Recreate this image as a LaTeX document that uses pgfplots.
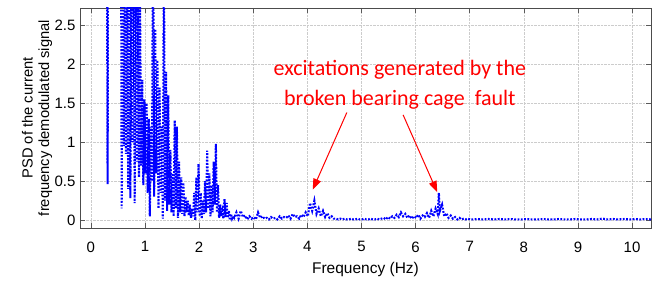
\documentclass[border=0pt]{standalone}
\usepackage{fontspec}
\setmainfont{Liberation Sans}
\newfontfamily\calib{Carlito}
\usepackage{pgfplots}
\pgfplotsset{compat=1.18}
\usetikzlibrary{arrows.meta}
\pgfplotstableread{
x y
0.29 6.0
0.31 0.46
0.33 8.0
0.35 6.5
0.37 9.0
0.39 7.0
0.41 8.5
0.43 6.0
0.45 9.0
0.47 7.5
0.49 8.0
0.51 6.0
0.53 9.0
0.55 7.0
0.57 0.15
0.59 4.0
0.61 0.95
0.63 3.5
0.65 0.85
0.67 4.2
0.69 0.40
0.71 3.8
0.73 0.28
0.75 3.1
0.77 1.00
0.79 4.5
0.81 0.22
0.83 3.3
0.85 0.75
0.87 2.9
0.89 0.55
0.91 2.75
0.93 0.70
0.95 1.80
0.97 0.45
0.99 1.55
1.01 0.60
1.03 1.50
1.05 0.35
1.07 1.30
1.09 0.05
1.11 1.20
1.13 0.50
1.15 4.0
1.17 0.30
1.19 2.45
1.21 0.60
1.23 2.05
1.25 0.15
1.27 1.70
1.29 0.35
1.31 1.20
1.33 0.02
1.35 3.5
1.37 0.25
1.39 1.90
1.41 0.12
1.43 1.60
1.45 0.20
1.47 0.90
1.49 0.10
1.51 0.60
1.53 0.05
1.55 1.28
1.57 0.15
1.59 1.20
1.61 0.03
1.63 0.75
1.65 0.10
1.67 0.55
1.69 0.08
1.71 0.48
1.73 0.05
1.75 0.30
1.77 0.10
1.79 0.25
1.81 0.06
1.83 0.20
1.85 0.03
1.87 0.15
1.89 0.05
1.91 0.35
1.93 0.00
1.95 0.55
1.97 0.10
1.99 0.72
2.01 0.05
2.03 0.35
2.05 0.02
2.07 0.25
2.09 0.08
2.11 0.50
2.13 0.10
2.15 0.89
2.17 0.15
2.19 0.60
2.21 0.05
2.23 0.45
2.25 0.10
2.27 0.75
2.29 0.20
2.31 0.98
2.33 0.10
2.35 0.45
2.37 0.03
2.39 0.20
2.41 0.05
2.43 0.12
2.45 0.02
2.47 0.27
2.49 0.04
2.51 0.22
2.53 0.03
2.55 0.12
2.57 0.00
2.59 0.08
2.61 0.02
2.63 0.05
2.65 0.03
2.69 0.10
2.73 0.02
2.77 0.12
2.81 0.04
2.85 0.06
2.89 0.01
2.93 0.05
2.97 0.02
3.01 0.04
3.05 0.01
3.09 0.10
3.13 0.03
3.17 0.05
3.21 0.02
3.25 0.03
3.29 0.01
3.33 0.04
3.37 0.02
3.41 0.03
3.45 0.01
3.49 0.05
3.53 0.02
3.57 0.04
3.61 0.03
3.65 0.06
3.69 0.02
3.73 0.08
3.77 0.04
3.81 0.05
3.85 0.02
3.89 0.07
3.93 0.04
3.97 0.10
4.01 0.05
4.05 0.22
4.09 0.12
4.13 0.25
4.17 0.08
4.21 0.15
4.25 0.05
4.29 0.12
4.33 0.04
4.37 0.09
4.41 0.03
4.45 0.05
4.49 0.02
4.53 0.02
4.57 0.01
4.61 0.02
4.65 0.01
4.69 0.02
4.73 0.01
4.77 0.01
4.81 0.02
4.85 0.01
4.89 0.01
4.93 0.02
4.97 0.01
5.01 0.01
5.05 0.02
5.09 0.01
5.13 0.01
5.17 0.02
5.21 0.01
5.25 0.01
5.29 0.02
5.33 0.01
5.37 0.02
5.41 0.03
5.45 0.01
5.49 0.04
5.53 0.02
5.57 0.05
5.61 0.03
5.65 0.07
5.69 0.04
5.73 0.10
5.77 0.05
5.81 0.08
5.85 0.03
5.89 0.06
5.93 0.02
5.97 0.05
6.01 0.03
6.05 0.07
6.09 0.02
6.13 0.06
6.17 0.04
6.21 0.09
6.25 0.03
6.29 0.12
6.33 0.05
6.37 0.15
6.41 0.08
6.43 0.35
6.45 0.12
6.49 0.20
6.53 0.05
6.57 0.09
6.61 0.03
6.65 0.06
6.69 0.02
6.73 0.04
6.77 0.01
6.81 0.03
6.85 0.01
6.89 0.02
6.93 0.01
6.97 0.02
7.01 0.01
7.05 0.01
7.15 0.015
7.25 0.01
7.35 0.015
7.45 0.01
7.55 0.015
7.65 0.01
7.75 0.015
7.85 0.01
7.95 0.01
8.05 0.015
8.15 0.01
8.25 0.01
8.35 0.015
8.45 0.01
8.55 0.01
8.65 0.015
8.75 0.01
8.85 0.01
8.95 0.015
9.05 0.01
9.15 0.01
9.25 0.015
9.35 0.01
9.45 0.02
9.55 0.01
9.65 0.015
9.75 0.01
9.85 0.015
9.95 0.01
10.05 0.015
10.15 0.01
10.25 0.015
10.35 0.01
}\psd
\begin{document}
\begin{tikzpicture}
\begin{axis}[
  at={(0pt,0pt)}, anchor=south west,
  scale only axis, width=571pt, height=220pt,
  xmin=-0.2, xmax=10.35, ymin=-0.1, ymax=2.72,
  xtick={0,1,...,10}, ytick={0,0.5,1,1.5,2,2.5},
  yticklabels={0,0.5,1,1.5,2,2.5},
  tick align=inside, major tick length=5pt,
  tick style={gray!70!black, thin},
  axis line style={gray!60!black, thin},
  grid=major, major grid style={gray!40, densely dotted, thin},
  tick label style={font=\fontsize{15}{17}\selectfont},
  /pgf/number format/assume math mode=true,
  xticklabel style={yshift=-10pt},
  yticklabel style={xshift=-1pt},
  xlabel={Frequency (Hz)},
  xlabel style={font=\fontsize{15.5}{17}\selectfont, at={(axis description cs:0.5,-0.19)}, anchor=center},
  ylabel={PSD of the current\\frequency demodulated signal},
  ylabel style={font=\fontsize{14.7}{16.5}\selectfont, align=center, at={(axis description cs:-0.075,0.5)}, anchor=center},
]
\addplot[blue, line width=2.1pt, dash pattern=on 1.8pt off 1.5pt] table[x=x,y=y] {\psd};
\node[font=\calib\fontsize{22}{30}\selectfont, text=red, align=center] at (axis cs:5.71,1.74)
  {excitations generated by the\\broken bearing cage\ \ fault};
\draw[red, line width=1pt, -{Triangle[length=11pt,width=8pt]}] (axis cs:4.73,1.38) -- (axis cs:4.10,0.39);
\draw[red, line width=1pt, -{Triangle[length=11pt,width=8pt]}] (axis cs:5.77,1.35) -- (axis cs:6.40,0.36);
\end{axis}
\pgfresetboundingbox
\path (-80pt,-55pt) rectangle (582pt,228pt);
\end{tikzpicture}
\end{document}
